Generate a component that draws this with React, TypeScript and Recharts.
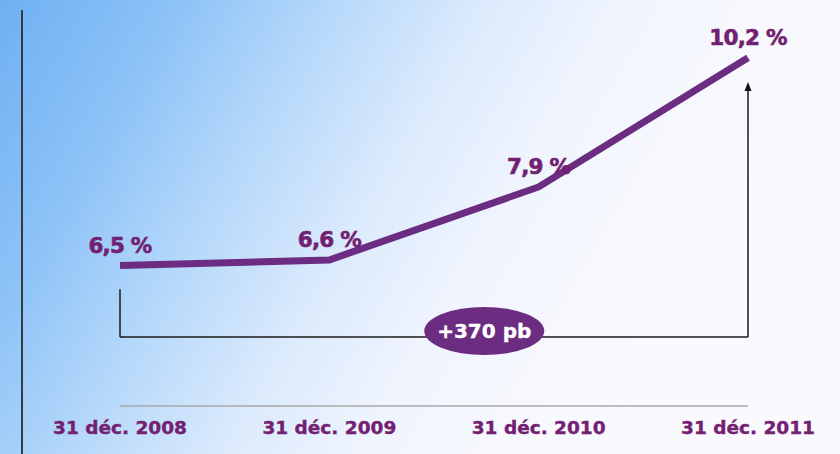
import React from 'react';
import { LineChart, Line, XAxis, YAxis, ReferenceLine, ReferenceDot } from 'recharts';

const dates = ['31 déc. 2008', '31 déc. 2009', '31 déc. 2010', '31 déc. 2011'];
const rates = [6.5, 6.6, 7.9, 10.2];
const changeLabel = '+370 pb';
// bracket annotation (in data units)
const bracketBase = 5.23;
const bracketLeftTop = 6.08;
const arrowTip = 9.77;
const pillPos = { x: 1.74, y: 5.335 };

const data = dates.map((d, i) => ({ i, date: d, rate: rates[i] }));

const PURPLE = '#6b2c82';
const TEXT_PURPLE = '#731f72';
const FONT = '"DejaVu Sans", Verdana, sans-serif';

const Tick = (props: any) => {
  const { x, y, payload } = props;
  return (
    <text x={x} y={y} dy={20} textAnchor="middle" fill={TEXT_PURPLE} stroke={TEXT_PURPLE} strokeWidth={0.4}
      fontFamily={FONT} fontWeight="bold" fontSize={18.5}>
      {dates[payload.value]}
    </text>
  );
};

const Pill = (props: any) => {
  const { cx, cy } = props;
  return (
    <g>
      <ellipse cx={cx} cy={cy} rx={60} ry={24} fill={PURPLE} />
      <text x={cx} y={cy + 7} textAnchor="middle" fill="#ffffff" stroke="#ffffff" strokeWidth={0.4}
        fontFamily={FONT} fontWeight="bold" fontSize={20}>
        {changeLabel}
      </text>
    </g>
  );
};

const Arrowhead = (props: any) => {
  const { cx, cy } = props;
  return <polygon points={`${cx},${cy} ${cx - 3.5},${cy + 9} ${cx + 3.5},${cy + 9}`} fill="#111" />;
};

export default function App() {
  return (
    <div style={{ position: 'absolute', left: 0, top: 0, width: 840, height: 454, overflow: 'hidden',
      background: 'linear-gradient(120deg, #6fb0f2 0%, #8cc2f7 16%, #b5d8fa 30%, #dbeafc 44%, #eff4fe 56%, #f7f8fe 68%, #fafafe 85%)' }}>
      <div style={{ position: 'absolute', left: 21, top: 10, width: 2, height: 444, background: '#333c46' }} />
      <LineChart width={840} height={454} data={data} margin={{ top: 10, right: 92, bottom: 0, left: 120 }}>
        <XAxis dataKey="i" type="number" domain={[0, 3]} ticks={[0, 1, 2, 3]} height={48}
          axisLine={{ stroke: '#a8a8a8', strokeWidth: 1.5 }} tickLine={false} tick={<Tick />} interval={0} />
        <YAxis hide domain={[4, 11.05]} />
        <ReferenceLine segment={[{ x: 0, y: bracketLeftTop }, { x: 0, y: bracketBase }]} stroke="#1a1a1a" strokeWidth={1.5} ifOverflow="visible" />
        <ReferenceLine segment={[{ x: 0, y: bracketBase }, { x: 3, y: bracketBase }]} stroke="#1a1a1a" strokeWidth={1.5} ifOverflow="visible" />
        <ReferenceLine segment={[{ x: 3, y: bracketBase }, { x: 3, y: arrowTip - 0.1 }]} stroke="#1a1a1a" strokeWidth={1.5} ifOverflow="visible" />
        <ReferenceDot x={3} y={arrowTip} r={1} shape={<Arrowhead />} ifOverflow="visible" />
        <ReferenceDot x={pillPos.x} y={pillPos.y} r={1} shape={<Pill />} ifOverflow="visible" />
        <Line dataKey="rate" stroke={PURPLE} strokeWidth={7} dot={false} isAnimationActive={false} strokeLinejoin="miter"
          label={{ position: 'top', offset: 13, fill: TEXT_PURPLE, stroke: TEXT_PURPLE, strokeWidth: 0.6, fontSize: 21.5,
            fontWeight: 'bold', fontFamily: FONT, letterSpacing: -0.8,
            formatter: (v: any) => Number(v).toFixed(1).replace('.', ',') + ' %' }} />
      </LineChart>
    </div>
  );
}
